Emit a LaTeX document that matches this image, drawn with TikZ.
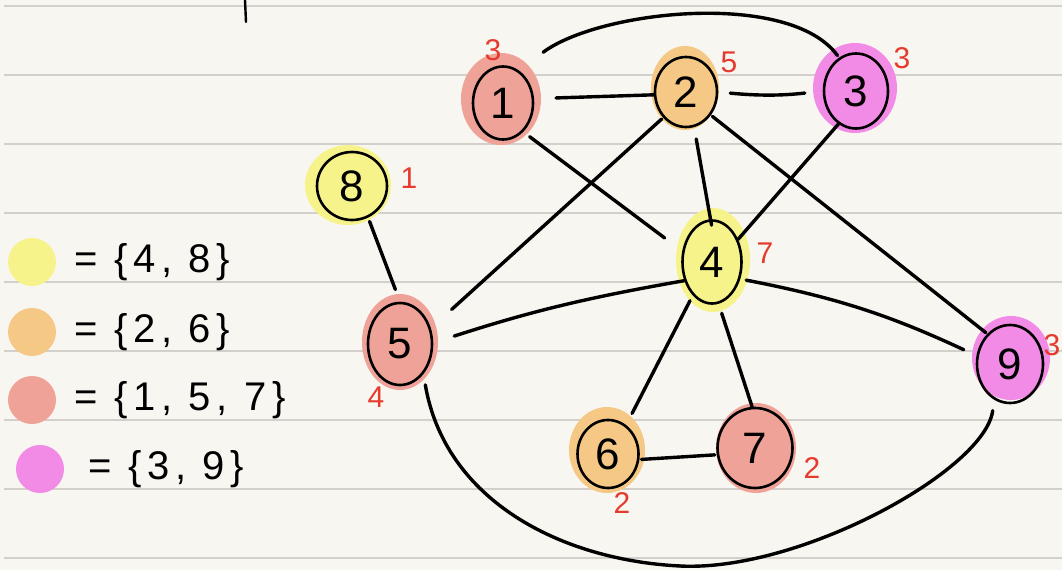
\documentclass[tikz,border=0pt]{standalone}
\usepackage{fontspec}
\setmainfont{Liberation Sans}
\newfontfamily\legfont[LetterSpace=14]{Liberation Sans}
\usetikzlibrary{shapes.geometric}
\definecolor{paper}{HTML}{F8F6F1}
\definecolor{rulec}{HTML}{D3CFCA}
\definecolor{yel}{HTML}{F7F38B}
\definecolor{ora}{HTML}{F5C985}
\definecolor{sal}{HTML}{EFA297}
\definecolor{pnk}{HTML}{F28BE6}
\definecolor{redl}{HTML}{E63A2E}
\tikzset{
  vert/.style={ellipse, draw=black, line width=2.6pt, inner sep=0pt, font=\fontsize{44}{44}\selectfont},
  blob/.style={ellipse, inner sep=0pt, draw=none},
  edge/.style={line width=3.4pt, line cap=round},
  num/.style={text=redl, font=\fontsize{30}{30}\selectfont, inner sep=0pt},
  legtxt/.style={anchor=west, inner sep=0pt, font=\legfont\fontsize{40}{40}\selectfont},
  dot/.style={circle, inner sep=0pt, minimum size=48pt},
  rulel/.style={draw=rulec, line width=1.2pt}
}
\begin{document}
\begin{tikzpicture}[x=1pt,y=-1pt]
\fill[paper] (0,0) rectangle (1062,570);
\useasboundingbox (0,0) rectangle (1062,570);
\foreach \yy in {6,75,...,558} \draw[rulel] (4,\yy) -- (1062,\yy);
% tick at the top
\coordinate (tk1) at (245,0);
\coordinate (tk2) at (246,22);
\draw[edge, line width=2.4pt] (tk1) -- (tk2);
% colour blobs
\node[blob, fill=sal, minimum width=80pt, minimum height=92pt] (b1) at (501,99) {};
\node[blob, fill=ora, minimum width=68pt, minimum height=84pt] (b2) at (685,88) {};
\node[blob, fill=pnk, minimum width=84pt, minimum height=90pt] (b3) at (855,88) {};
\node[blob, fill=yel, minimum width=74pt, minimum height=104pt] (b4) at (713,260) {};
\node[blob, fill=sal, minimum width=76pt, minimum height=96pt] (b5) at (400,342) {};
\node[blob, fill=ora, minimum width=76pt, minimum height=86pt] (b6) at (607,450) {};
\node[blob, fill=sal, minimum width=80pt, minimum height=90pt] (b7) at (756,448) {};
\node[blob, fill=yel, minimum width=86pt, minimum height=80pt] (b8) at (348,185) {};
\node[blob, fill=pnk, minimum width=78pt, minimum height=84pt] (b9) at (1011,358) {};
% vertices
\node[vert, minimum width=60pt, minimum height=73pt] (n1) at (503,103) {1};
\node[vert, minimum width=62pt, minimum height=70pt] (n2) at (686,92) {2};
\node[vert, minimum width=64pt, minimum height=75pt] (n3) at (856,91) {3};
\node[vert, minimum width=59pt, minimum height=83pt] (n4) at (712,262) {4};
\node[vert, minimum width=64pt, minimum height=82pt] (n5) at (400,344) {5};
\node[vert, minimum width=61pt, minimum height=68pt] (n6) at (608,454) {6};
\node[vert, minimum width=75pt, minimum height=80pt] (n7) at (755,448) {7};
\node[vert, minimum width=70pt, minimum height=68pt] (n8) at (352,186) {8};
\node[vert, minimum width=66pt, minimum height=78pt] (n9) at (1010,364) {9};
% red numbers
\node[num] (l1) at (493,50) {3};
\node[num] (l2) at (729,62) {5};
\node[num] (l3) at (902,58) {3};
\node[num] (l4) at (765,253) {7};
\node[num] (l5) at (376,397) {4};
\node[num] (l6) at (622,503) {2};
\node[num] (l7) at (812,468) {2};
\node[num] (l8) at (409,178) {1};
\node[num] (l9) at (1052,345) {3};
% edges
\draw[edge, shorten <=22pt] (n1.8) -- (n2.185);
\draw[edge, shorten <=12pt, shorten >=18pt] (n2.0) to[bend right=6] (n3.180);
\draw[edge] ([shift={(18,-24)}]n1.north east) .. controls (600,10) and (790,-10) .. ([shift={(5,-8)}]n3.north west);
\draw[edge, shorten <=8pt, shorten >=22pt] (n1.-55) -- (n4.160);
\draw[edge, shorten <=2pt, shorten >=28pt] (n2.south west) -- (n5.27);
\draw[edge, shorten <=12pt, shorten >=-6pt] (n2.-77) -- (n4.92);
\draw[edge] (n3.-118) -- (n4.41);
\draw[edge, shorten <=2pt, shorten >=2pt] (n2.-43) -- (n9.127);
\draw[edge, shorten <=4pt, shorten >=13pt] (n8.-63) -- (n5.90);
\draw[edge, shorten <=22pt] (n5.2) to[bend left=4] (n4.214);
\draw[edge, shorten <=6pt, shorten >=14pt] (n4.-31) to[bend left=7] (n9.166);
\draw[edge, shorten <=6pt, shorten >=13pt] (n4.240) -- (n6.58);
\draw[edge, shorten <=10pt] (n4.-81) -- (n7.94);
\draw[edge, shorten <=2pt, shorten >=2pt] (n6.-10) -- (n7.190);
\coordinate (bot) at (680,566);
\draw[edge, shorten <=11pt] (n5.-52) .. controls (445,500) and (560,560) .. (bot);
\draw[edge, shorten >=11pt] (bot) .. controls (800,572) and (985,470) .. (n9.246);
% legend
\node[dot, fill=yel] (d1) at (32,262) {};
\node[dot, fill=ora] (d2) at (32,332) {};
\node[dot, fill=sal] (d3) at (32,400) {};
\node[dot, fill=pnk] (d4) at (40,469) {};
\node[legtxt] (t1) at (74,262) {= \{4, 8\}};
\node[legtxt] (t2) at (74,332) {= \{2, 6\}};
\node[legtxt] (t3) at (74,400) {= \{1, 5, 7\}};
\node[legtxt] (t4) at (88,469) {= \{3, 9\}};
\end{tikzpicture}
\end{document}
